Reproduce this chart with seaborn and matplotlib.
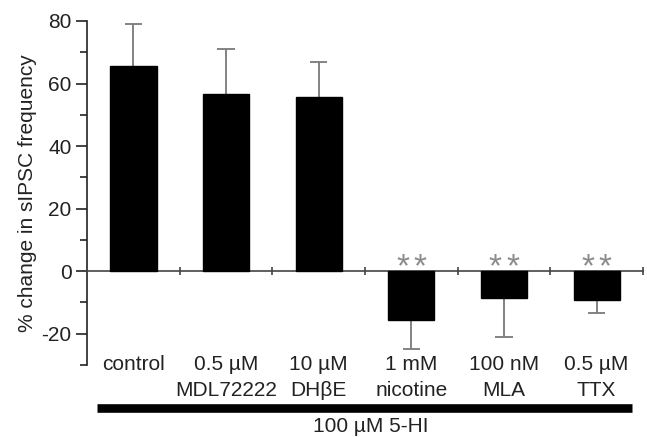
import matplotlib
matplotlib.use("Agg")
import matplotlib.pyplot as plt
import seaborn as sns
import pandas as pd
import numpy as np
from matplotlib.lines import Line2D
from matplotlib.ticker import MultipleLocator

line1 = ["control", "0.5 µM", "10 µM", "1 mM", "100 nM", "0.5 µM"]
line2 = ["", "MDL72222", "DHβE", "nicotine", "MLA", "TTX"]
values = [65.5, 56.8, 55.6, -15.5, -8.5, -9.3]
errors = [13.5, 14.2, 11.2, 9.5, 12.5, 4.0]
significant = [False, False, False, True, True, True]
group_label = "100 µM 5-HI"
ylabel = "% change in sIPSC frequency"

sns.set_style("ticks")
plt.rcParams['font.family'] = ['Liberation Sans', 'DejaVu Sans']
plt.rcParams['axes.unicode_minus'] = False

df = pd.DataFrame({"cond": [f"{a}\n{b}" for a, b in zip(line1, line2)],
                   "val": values, "err": errors})

fig = plt.figure(figsize=(6.47, 4.37), dpi=100)
ax = fig.add_axes([87/647, 1-365/437, (643-87)/647, (365-21)/437])

sns.barplot(data=df, x="cond", y="val", color="black", width=0.5,
            saturation=1, ax=ax, errorbar=None, zorder=3)
for p in ax.patches:
    p.set_edgecolor("black")

ecol = "#7a7a7a"
for i, (v, e) in enumerate(zip(values, errors)):
    end = v + e if v >= 0 else v - e
    ax.vlines(i, v, end, color=ecol, lw=1.3, zorder=2)
    ax.hlines(end, i - 0.095, i + 0.095, color=ecol, lw=1.3, zorder=2)
    if significant[i]:
        for dx in (-0.095, 0.095):
            ax.text(i + dx, 1.0, "*", ha="center", va="center", fontsize=24,
                    color="#8c8c8c")

ax.set_xlim(-0.5, 5.5)
ax.set_ylim(-30, 80)
ax.yaxis.set_major_locator(MultipleLocator(20))
ax.yaxis.set_minor_locator(MultipleLocator(10))
ax.tick_params(axis="y", which="major", length=8, width=1.2, labelsize=15,
               colors="#222222", pad=3)
ax.tick_params(axis="y", which="minor", length=5, width=1.2, colors="#222222")

ax.spines["top"].set_visible(False)
ax.spines["right"].set_visible(False)
ax.spines["left"].set_color("#222222")
ax.spines["left"].set_linewidth(1.2)
ax.spines["bottom"].set_position(("data", 0))
ax.spines["bottom"].set_color("#444444")
ax.spines["bottom"].set_linewidth(1.2)
ax.set_xticks(np.arange(0.5, 6, 1.0))
ax.set_xticklabels([])
ax.tick_params(axis="x", direction="inout", length=6, width=1.2,
               colors="#444444")
ax.set_xlabel("")
ax.set_ylabel("")
fig.text(28/647, 1-193/437, ylabel, rotation=90, ha="center", va="center",
         fontsize=15, color="#222222")

tr = ax.get_xaxis_transform()
for i, (a, b) in enumerate(zip(line1, line2)):
    ax.text(i, (365-364)/344, a, transform=tr, ha="center", va="center",
            fontsize=15, color="#222222")
    ax.text(i, (365-390)/344, b, transform=tr, ha="center", va="center",
            fontsize=15, color="#222222")

fig.add_artist(Line2D([97/647, 632/647], [1-407.5/437]*2, lw=6.2,
                      color="black", solid_capstyle="butt"))
fig.text(371/647, 1-427/437, group_label, ha="center", va="center",
         fontsize=15, color="#222222")

fig.savefig("out.png", dpi=100)
